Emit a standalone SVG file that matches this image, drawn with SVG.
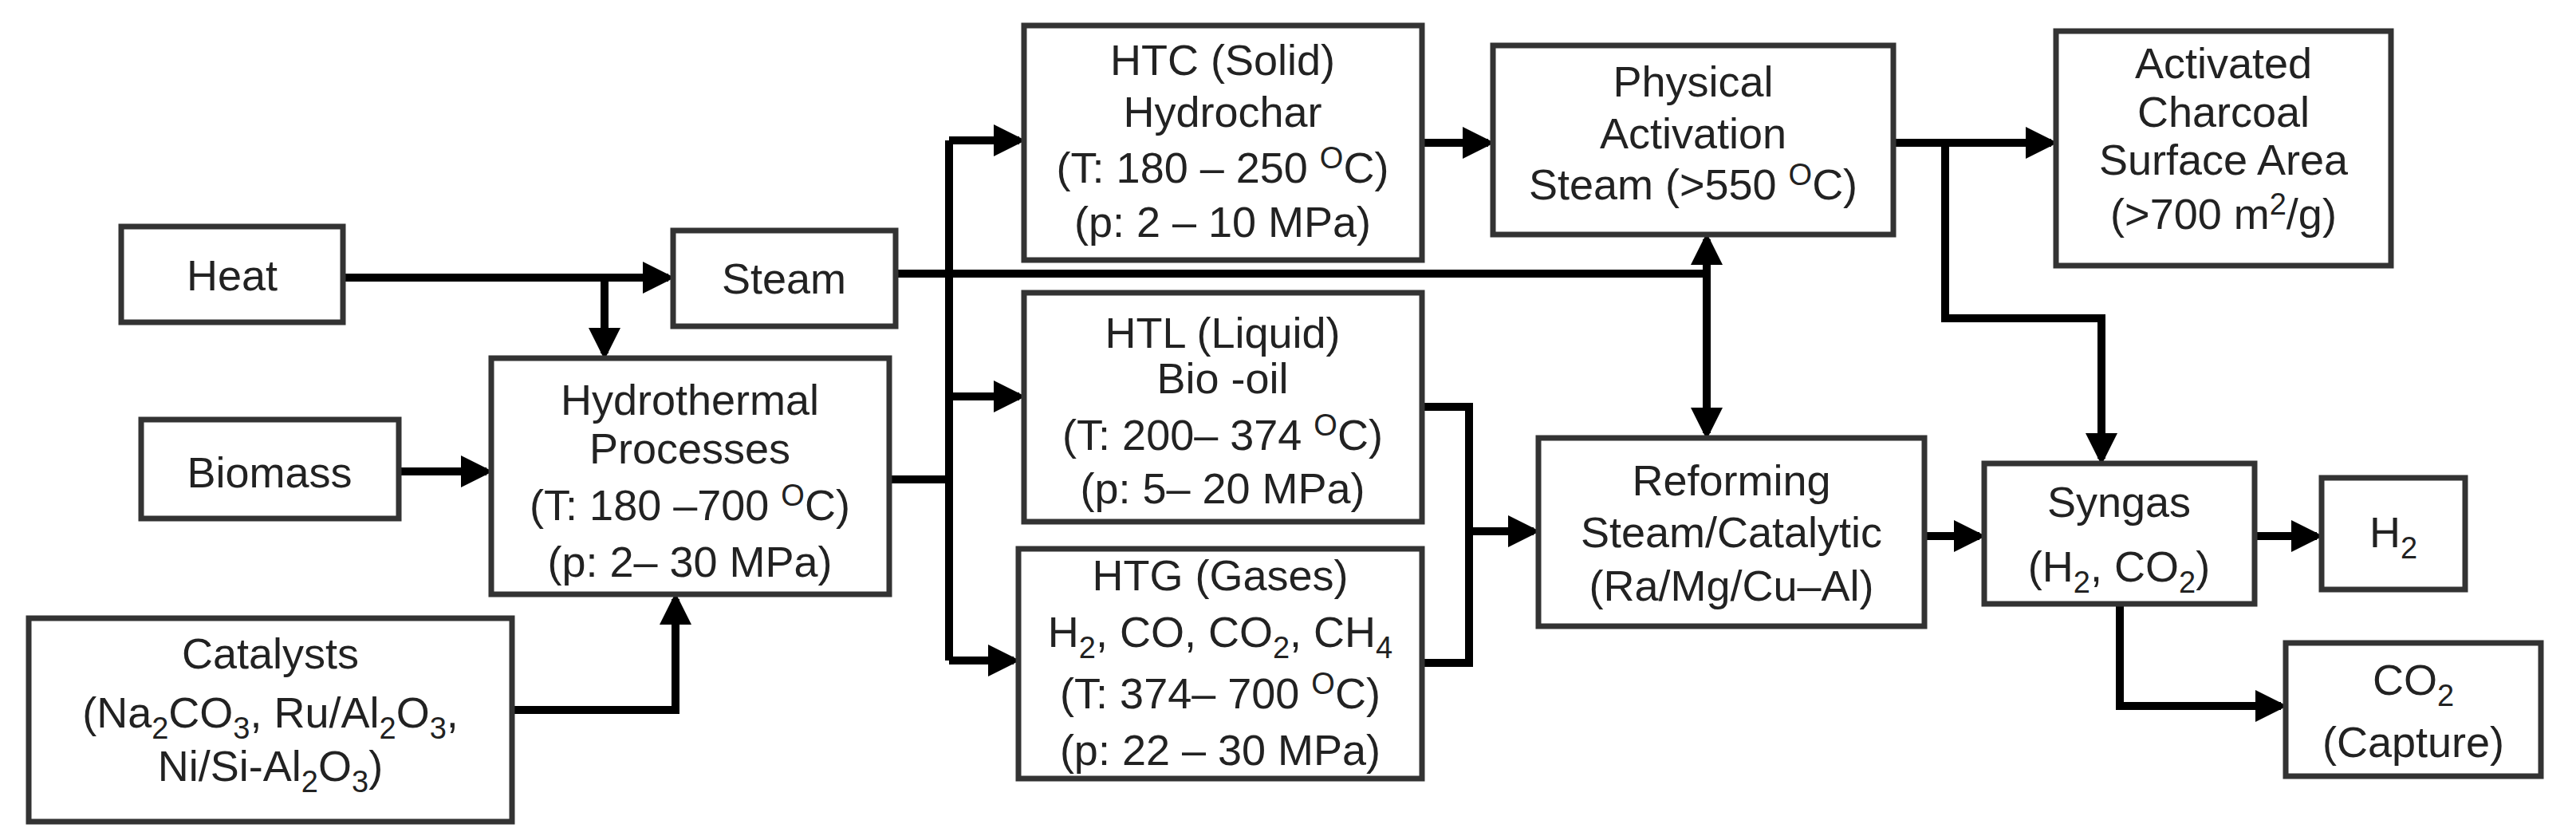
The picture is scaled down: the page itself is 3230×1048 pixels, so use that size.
<svg xmlns="http://www.w3.org/2000/svg" width="3230" height="1048" viewBox="0 0 3230 1048">
<style>
.b{fill:#fff;stroke:#333;stroke-width:7}
.t{font-family:"Liberation Sans",Arial,sans-serif;font-size:54px;fill:#222;text-anchor:middle}
.c{fill:none;stroke:#000;stroke-width:10}
.s{font-size:38px}
</style>
<defs><marker id="a" markerWidth="4" markerHeight="4" refX="3.2" refY="2" orient="auto" markerUnits="strokeWidth"><path d="M0,0L4,2L0,4z" fill="#000"/></marker></defs>
<rect width="3230" height="1048" fill="#fff"/>
<g id="connectors">
<path class="c" d="M430,348H838" marker-end="url(#a)"/>
<path class="c" d="M758,348V443" marker-end="url(#a)"/>
<path class="c" d="M500,591H610" marker-end="url(#a)"/>
<path class="c" d="M642,890H847V751" marker-end="url(#a)"/>
<path class="c" d="M1115,601H1190"/>
<path class="c" d="M1190,176V828"/>
<path class="c" d="M1190,176H1278" marker-end="url(#a)"/>
<path class="c" d="M1190,497H1278" marker-end="url(#a)"/>
<path class="c" d="M1190,828H1271" marker-end="url(#a)"/>
<path class="c" d="M1123,343H2140"/>
<path class="c" d="M2140,343V300" marker-end="url(#a)"/>
<path class="c" d="M2140,343V543" marker-end="url(#a)"/>
<path class="c" d="M1783,179H1866" marker-end="url(#a)"/>
<path class="c" d="M2374,179H2572" marker-end="url(#a)"/>
<path class="c" d="M2439,179V399H2635V575" marker-end="url(#a)"/>
<path class="c" d="M1783,510H1842V831H1783"/>
<path class="c" d="M1842,666H1923" marker-end="url(#a)"/>
<path class="c" d="M2413,672H2482" marker-end="url(#a)"/>
<path class="c" d="M2827,672H2905" marker-end="url(#a)"/>
<path class="c" d="M2658,757V885H2860" marker-end="url(#a)"/>
</g>
<g id="heat"><rect class="b" x="152" y="284" width="278" height="120"/><text class="t" x="291" y="364">Heat</text></g>
<g id="steam"><rect class="b" x="844" y="289" width="279" height="120"/><text class="t" x="983" y="368">Steam</text></g>
<g id="hydro"><rect class="b" x="616" y="449" width="499" height="296"/><text class="t" x="865"><tspan x="865" y="520">Hydrothermal</tspan><tspan x="865" y="581">Processes</tspan><tspan x="865" y="652">(T: 180 –700 <tspan class="s" dy="-18">O</tspan><tspan dy="18">C)</tspan></tspan><tspan x="865" y="723">(p: 2– 30 MPa)</tspan></text></g>
<g id="biomass"><rect class="b" x="177" y="526" width="323" height="124"/><text class="t" x="338" y="611">Biomass</text></g>
<g id="catalysts"><rect class="b" x="36" y="775" width="606" height="255"/><text class="t"><tspan x="339" y="838">Catalysts</tspan><tspan x="339" y="912">(Na<tspan class="s" dy="14">2</tspan><tspan dy="-14">CO</tspan><tspan class="s" dy="14">3</tspan><tspan dy="-14">, Ru/Al</tspan><tspan class="s" dy="14">2</tspan><tspan dy="-14">O</tspan><tspan class="s" dy="14">3</tspan><tspan dy="-14">,</tspan></tspan><tspan x="339" y="979">Ni/Si-Al<tspan class="s" dy="14">2</tspan><tspan dy="-14">O</tspan><tspan class="s" dy="14">3</tspan><tspan dy="-14">)</tspan></tspan></text></g>
<g id="htc"><rect class="b" x="1284" y="32" width="499" height="294"/><text class="t"><tspan x="1533" y="94">HTC (Solid)</tspan><tspan x="1533" y="159">Hydrochar</tspan><tspan x="1533" y="229">(T: 180 – 250 <tspan class="s" dy="-18">O</tspan><tspan dy="18">C)</tspan></tspan><tspan x="1533" y="297">(p: 2 – 10 MPa)</tspan></text></g>
<g id="htl"><rect class="b" x="1284" y="367" width="499" height="287"/><text class="t"><tspan x="1533" y="436">HTL (Liquid)</tspan><tspan x="1533" y="493">Bio -oil</tspan><tspan x="1533" y="564">(T: 200– 374 <tspan class="s" dy="-18">O</tspan><tspan dy="18">C)</tspan></tspan><tspan x="1533" y="631">(p: 5– 20 MPa)</tspan></text></g>
<g id="htg"><rect class="b" x="1277" y="688" width="506" height="288"/><text class="t"><tspan x="1530" y="740">HTG (Gases)</tspan><tspan x="1530" y="811">H<tspan class="s" dy="14">2</tspan><tspan dy="-14">, CO, CO</tspan><tspan class="s" dy="14">2</tspan><tspan dy="-14">, CH</tspan><tspan class="s" dy="14">4</tspan></tspan><tspan x="1530" y="888">(T: 374– 700 <tspan class="s" dy="-18">O</tspan><tspan dy="18">C)</tspan></tspan><tspan x="1530" y="959">(p: 22 – 30 MPa)</tspan></text></g>
<g id="physical"><rect class="b" x="1872" y="57" width="502" height="237"/><text class="t"><tspan x="2123" y="121">Physical</tspan><tspan x="2123" y="186">Activation</tspan><tspan x="2123" y="250">Steam (&gt;550 <tspan class="s" dy="-18">O</tspan><tspan dy="18">C)</tspan></tspan></text></g>
<g id="activated"><rect class="b" x="2578" y="39" width="420" height="294"/><text class="t"><tspan x="2788" y="98">Activated</tspan><tspan x="2788" y="159">Charcoal</tspan><tspan x="2788" y="219">Surface Area</tspan><tspan x="2788" y="287">(&gt;700 m<tspan class="s" dy="-18">2</tspan><tspan dy="18">/g)</tspan></tspan></text></g>
<g id="reforming"><rect class="b" x="1929" y="549" width="484" height="236"/><text class="t"><tspan x="2171" y="621">Reforming</tspan><tspan x="2171" y="686">Steam/Catalytic</tspan><tspan x="2171" y="753">(Ra/Mg/Cu–Al)</tspan></text></g>
<g id="syngas"><rect class="b" x="2488" y="581" width="339" height="176"/><text class="t"><tspan x="2657" y="648">Syngas</tspan><tspan x="2657" y="729">(H<tspan class="s" dy="14">2</tspan><tspan dy="-14">, CO</tspan><tspan class="s" dy="14">2</tspan><tspan dy="-14">)</tspan></tspan></text></g>
<g id="h2"><rect class="b" x="2911" y="599" width="180" height="140"/><text class="t" x="3001" y="686">H<tspan class="s" dy="14">2</tspan></text></g>
<g id="co2"><rect class="b" x="2866" y="806" width="320" height="167"/><text class="t"><tspan x="3026" y="871">CO<tspan class="s" dy="14">2</tspan></tspan><tspan x="3026" y="949">(Capture)</tspan></text></g>
</svg>
